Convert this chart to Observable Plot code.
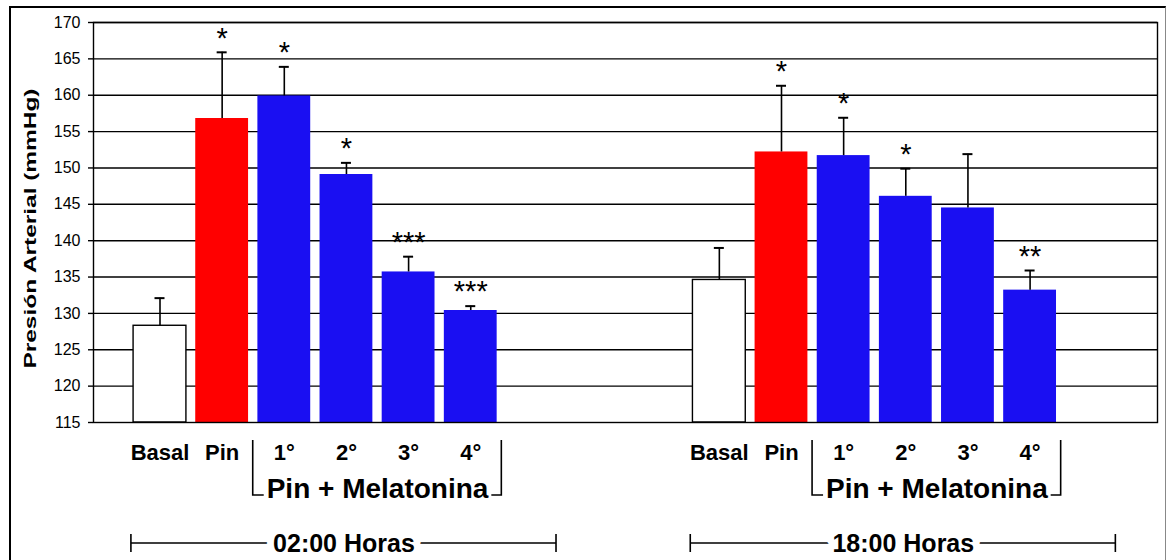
<!DOCTYPE html>
<html>
<head>
<meta charset="utf-8">
<script src="https://cdn.jsdelivr.net/npm/d3@7"></script>
<script src="https://cdn.jsdelivr.net/npm/@observablehq/plot@0.6"></script>
<style>
  html, body { margin: 0; padding: 0; background: #fff; }
  #wrap { position: relative; width: 1169px; height: 560px; overflow: hidden; background: #fff; }
  #border { position: absolute; left: 9px; top: 6px; width: 1157px; height: 560px;
            border-left: 2px solid #000; border-top: 2px solid #000; border-right: 1px solid #888; box-sizing: border-box; pointer-events: none; }
</style>
</head>
<body>
<div id="wrap"><div id="chart"></div><div id="border"></div></div>
<script>
// ---- data ----
const hours = ["02:00 Horas", "18:00 Horas"];
const treatments = ["Basal", "Pin", "1°", "2°", "3°", "4°"];
const treatmentKinds = ["Basal", "Pin", "Pin + Melatonina", "Pin + Melatonina", "Pin + Melatonina", "Pin + Melatonina"];
const groupLabel = "Pin + Melatonina";

const pressure0200 = [128.3, 156.8, 159.9, 149.1, 135.7, 130.4];
const error0200    = [3.8, 9.1, 4.0, 1.6, 2.1, 0.6];
const stars0200    = ["", "*", "*", "*", "***", "***"];

const pressure1800 = [134.6, 152.2, 151.7, 146.1, 144.5, 133.2];
const error1800    = [4.4, 9.1, 5.2, 3.8, 7.4, 2.7];
const stars1800    = ["", "*", "*", "*", "", "**"];

const yTicks = [115, 120, 125, 130, 135, 140, 145, 150, 155, 160, 165, 170];
const yTitle = "Presión Arterial (mmHg)";

// ---- build table ----
const pressures = [pressure0200, pressure1800];
const errors = [error0200, error1800];
const stars = [stars0200, stars1800];
const groupGap = 3; // empty category slots between the two groups
const slots = treatments.length + groupGap;

const bars = hours.flatMap((h, g) => treatments.map((t, i) => ({
  hour: h,
  treatment: t,
  kind: treatmentKinds[i],
  pos: g * slots + i,
  value: pressures[g][i],
  top: pressures[g][i] + errors[g][i],
  star: stars[g][i]
})));
const groups = hours.map((h, g) => ({hour: h, start: g * slots}));
const labelAt = new Map(bars.map(d => [d.pos, d.treatment]));

const font = "'Liberation Sans', Arial, Helvetica, sans-serif";
const half = 0.425;

// annotation lines (brackets and hour spans) drawn through the x scale
function annotations(index, scales, values, dimensions) {
  const x = scales.x;
  const base = dimensions.height - dimensions.marginBottom;
  const g = d3.create("svg:g").attr("fill", "none").attr("stroke", "black").attr("stroke-width", 1.6);
  for (const grp of groups) {
    const xl = x(grp.start + 1.5), xr = x(grp.start + treatments.length - 0.5);
    g.append("path").attr("d", `M${xl},${base + 18}V${base + 73}H${xl + 11}`);
    g.append("path").attr("d", `M${xr},${base + 18}V${base + 73}H${xr - 10}`);
    const h1 = x(grp.start - 0.46), h2 = x(grp.start + 6.38), hy = base + 121;
    g.append("path").attr("d", `M${h1},${hy}H${h2}M${h1},${hy - 9}V${hy + 9}M${h2},${hy - 9}V${hy + 9}`);
  }
  return g.node();
}

const chart = Plot.plot({
  width: 1169,
  height: 560,
  marginLeft: 93,
  marginRight: 12,
  marginTop: 22,
  marginBottom: 138,
  style: {fontFamily: font, color: "black", background: "transparent", overflow: "visible"},
  x: {type: "linear", domain: [-1.07, 16.05], label: null},
  y: {domain: [115, 170], label: null},
  color: {domain: ["Basal", "Pin", "Pin + Melatonina"], range: ["#ffffff", "#ff0000", "#1a0ff2"]},
  marks: [
    Plot.ruleY(yTicks.slice(1), {stroke: "black", strokeWidth: 1.4}),
    Plot.rectY(bars.filter(d => d.kind === "Basal"), {
      x1: d => d.pos - half, x2: d => d.pos + half, y1: yTicks[0], y2: "value",
      fill: "kind", stroke: "black", strokeWidth: 1.4
    }),
    Plot.rectY(bars.filter(d => d.kind !== "Basal"), {
      x1: d => d.pos - half, x2: d => d.pos + half, y1: yTicks[0], y2: "value",
      fill: "kind"
    }),
    Plot.ruleX(bars, {x: "pos", y1: "value", y2: "top", stroke: "black", strokeWidth: 1.6}),
    Plot.ruleY(bars, {x1: "pos", x2: "pos", y: "top", insetLeft: -5, insetRight: -5, stroke: "black", strokeWidth: 2}),
    Plot.text(bars.filter(d => d.star), {
      x: "pos", y: "top", text: "star", fontSize: 29, dy: -14, lineAnchor: "middle", fill: "black"
    }),
    Plot.frame({stroke: "black", strokeWidth: 1.4}),
    Plot.axisY(yTicks, {tickSize: 5, tickPadding: 8, fontSize: 16, label: null, stroke: "black", strokeWidth: 1.4}),
    Plot.axisX(bars.map(d => d.pos), {
      tickFormat: p => labelAt.get(p), tickSize: 0, tickPadding: 22,
      fontSize: 22, fontWeight: "bold", label: null
    }),
    Plot.text([yTitle], {
      text: d => d, frameAnchor: "left", textAnchor: "middle", rotate: -90,
      dx: -63, dy: 6, fontSize: 17, fontWeight: "bold", fill: "black"
    }),
    annotations,
    Plot.text(groups, {
      x: d => d.start + 3.5, text: () => groupLabel, frameAnchor: "bottom", dy: 67,
      lineAnchor: "middle", fontSize: 28, fontWeight: "bold", fill: "black"
    }),
    Plot.text(groups, {
      x: d => d.start + 2.96, text: "hour", frameAnchor: "bottom", dy: 121,
      lineAnchor: "middle", fontSize: 25, fontWeight: "bold", fill: "black",
      stroke: "white", strokeWidth: 14, paintOrder: "stroke"
    })
  ]
});

d3.select(chart).selectAll("text").filter(function() { return this.textContent === yTitle; })
  .attr("textLength", 280).attr("lengthAdjust", "spacingAndGlyphs");

document.getElementById("chart").appendChild(chart);
</script>
</body>
</html>
